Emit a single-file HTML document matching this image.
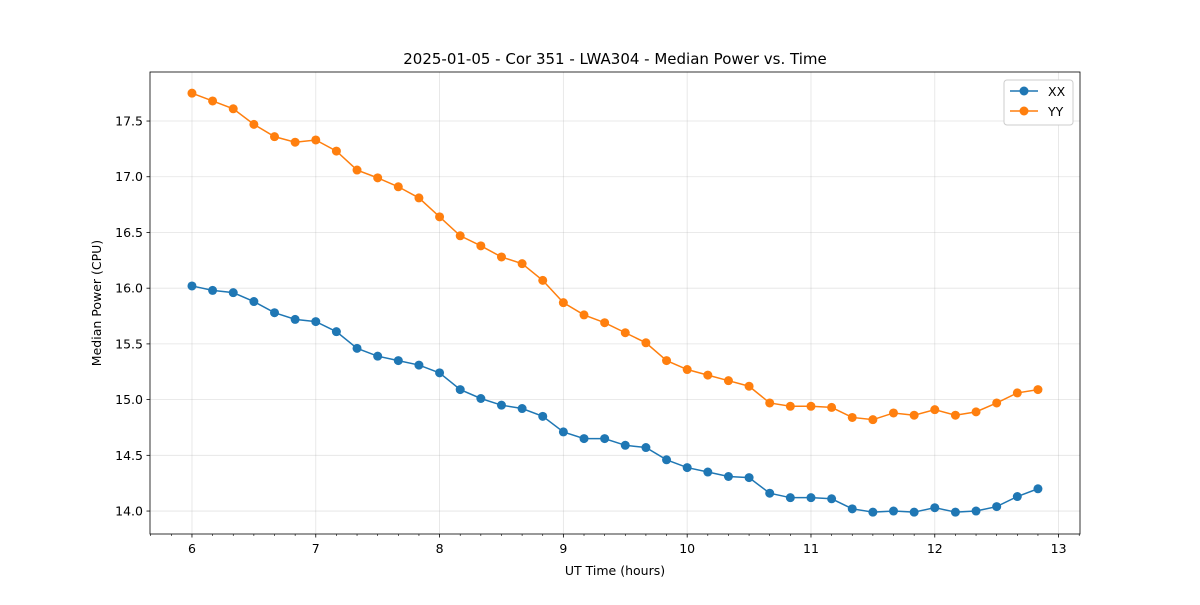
<!DOCTYPE html>
<html><head><meta charset="utf-8"><style>
body{margin:0;background:#fff;}
svg text{font-family:"DejaVu Sans","Liberation Sans",sans-serif;}
</style></head><body>
<svg id="chart" width="1200" height="600" xmlns="http://www.w3.org/2000/svg">
<rect width="1200" height="600" fill="#fff"/>
<text x="615" y="64" text-anchor="middle" font-size="15">2025-01-05 - Cor 351 - LWA304 - Median Power vs. Time</text>
<g id="grid"></g><g id="axes"></g><g id="series"></g>
<text x="615" y="575" text-anchor="middle" font-size="12.5">UT Time (hours)</text>
<text transform="translate(101,303) rotate(-90)" text-anchor="middle" font-size="12.5">Median Power (CPU)</text>
<g>
<rect x="1004" y="80" width="69" height="45" rx="3" fill="#fff" stroke="#ccc"/>
<line x1="1010" y1="91" x2="1038" y2="91" stroke="#1f77b4" stroke-width="1.5"/><circle cx="1024" cy="91" r="4.5" fill="#1f77b4"/>
<text x="1048" y="96" font-size="12.5">XX</text>
<line x1="1010" y1="111" x2="1038" y2="111" stroke="#ff7f0e" stroke-width="1.5"/><circle cx="1024" cy="111" r="4.5" fill="#ff7f0e"/>
<text x="1048" y="116" font-size="12.5">YY</text>
</g>
</svg>
<script>
const xx=[16.02,15.98,15.96,15.88,15.78,15.72,15.70,15.61,15.46,15.39,15.35,15.31,15.24,15.09,15.01,14.95,14.92,14.85,14.71,14.65,14.65,14.59,14.57,14.46,14.39,14.35,14.31,14.30,14.16,14.12,14.12,14.11,14.02,13.99,14.00,13.99,14.03,13.99,14.00,14.04,14.13,14.20];
const yy=[17.75,17.68,17.61,17.47,17.36,17.31,17.33,17.23,17.06,16.99,16.91,16.81,16.64,16.47,16.38,16.28,16.22,16.07,15.87,15.76,15.69,15.60,15.51,15.35,15.27,15.22,15.17,15.12,14.97,14.94,14.94,14.93,14.84,14.82,14.88,14.86,14.91,14.86,14.89,14.97,15.06,15.09];
const xTicks=[6,7,8,9,10,11,12,13];
const yTicks=[14.0,14.5,15.0,15.5,16.0,16.5,17.0,17.5];
const t0=6, dt=1/6;
const L=150,R=1080,T=72,B=534;
const X0=5.661,X1=13.173,Y0=13.794,Y1=17.940;
const sx=v=>L+(v-X0)/(X1-X0)*(R-L);
const sy=v=>B-(v-Y0)/(Y1-Y0)*(B-T);
const NS="http://www.w3.org/2000/svg";
function mk(tag,attrs,parent){const e=document.createElementNS(NS,tag);for(const k in attrs)e.setAttribute(k,attrs[k]);parent.appendChild(e);return e;}
const grid=document.getElementById('grid'),axes=document.getElementById('axes'),ser=document.getElementById('series');
xTicks.forEach(t=>{const x=sx(t);
 const g=mk('line',{x1:x,x2:x,y1:T,y2:B,stroke:'#b0b0b0','stroke-opacity':0.35,'stroke-width':0.8},grid);
 
 const k=mk('line',{x1:x,x2:x,y1:B,y2:B+3.5,stroke:'#000','stroke-width':0.8},axes);
 
 const tx=mk('text',{x:x,y:B+19,'text-anchor':'middle','font-size':12.5},axes);tx.textContent=t;
 });
for(let v=Math.ceil(X0*6)/6;v<=X1;v+=1/6){if(Math.abs(v-Math.round(v))<0.01)continue;const x=sx(v);
 const m=mk('line',{x1:x,x2:x,y1:B,y2:B+2,stroke:'#000','stroke-width':0.6},axes);
 }
yTicks.forEach(t=>{const y=sy(t);
 const g=mk('line',{x1:L,x2:R,y1:y,y2:y,stroke:'#b0b0b0','stroke-opacity':0.35,'stroke-width':0.8},grid);
 
 const k=mk('line',{x1:L-3.5,x2:L,y1:y,y2:y,stroke:'#000','stroke-width':0.8},axes);
 
 const tx=mk('text',{x:L-7,y:y+4.5,'text-anchor':'end','font-size':12.5},axes);tx.textContent=t.toFixed(1);
 });
const fr=mk('rect',{x:L,y:T,width:R-L,height:B-T,fill:'none',stroke:'#000','stroke-width':0.8},axes);

[[xx,'#1f77b4','xx'],[yy,'#ff7f0e','yy']].forEach(([d,c,n])=>{
 const pts=d.map((v,i)=>sx(t0+i*dt)+','+sy(v)).join(' ');
 const pl=mk('polyline',{points:pts,fill:'none',stroke:c,'stroke-width':1.5},ser);
 
 d.forEach((v,i)=>{const p=mk('circle',{cx:sx(t0+i*dt),cy:sy(v),r:4.5,fill:c},ser);
  });
});
</script>
</body></html>
